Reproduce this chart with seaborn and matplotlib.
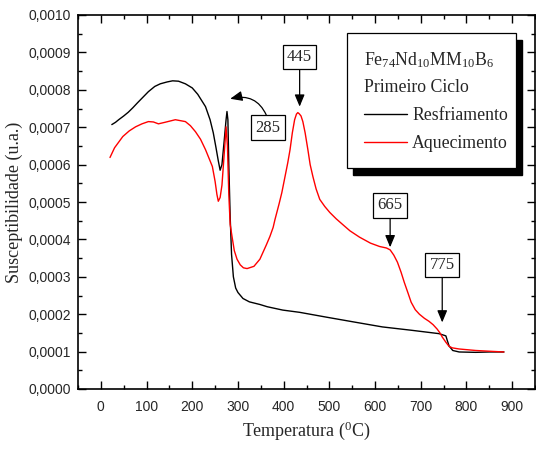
import numpy as np
import pandas as pd
import matplotlib
matplotlib.use("Agg")
import matplotlib.pyplot as plt
import seaborn as sns
from matplotlib.ticker import MultipleLocator, FuncFormatter
from matplotlib.patches import Rectangle

# ---------------- data ----------------
T_resfriamento = [24, 32, 39, 50, 60, 70, 80, 92, 104, 118, 130, 145, 157, 170, 185, 200,
                  212, 229, 239, 246, 252, 257, 261, 265, 270, 274, 276, 278, 280, 283,
                  286, 290, 295, 300, 311, 325, 348, 364, 398, 435, 494, 550, 616, 680,
                  740, 755, 758, 762, 770, 784, 820, 850, 882]
chi_resfriamento = [7.07e-4, 7.13e-4, 7.20e-4, 7.30e-4, 7.40e-4, 7.52e-4, 7.65e-4, 7.80e-4,
                    7.95e-4, 8.09e-4, 8.16e-4, 8.21e-4, 8.24e-4, 8.23e-4, 8.16e-4, 8.05e-4,
                    7.88e-4, 7.55e-4, 7.20e-4, 6.85e-4, 6.45e-4, 6.10e-4, 5.85e-4, 6.00e-4,
                    6.65e-4, 7.20e-4, 7.42e-4, 7.20e-4, 6.00e-4, 4.60e-4,
                    3.60e-4, 3.00e-4, 2.70e-4, 2.58e-4, 2.42e-4, 2.33e-4, 2.26e-4, 2.20e-4,
                    2.11e-4, 2.05e-4, 1.92e-4, 1.80e-4, 1.66e-4, 1.57e-4,
                    1.48e-4, 1.42e-4, 1.30e-4, 1.15e-4, 1.03e-4, 0.99e-4, 0.98e-4, 0.99e-4,
                    0.99e-4]

T_aquecimento = [20, 30, 48, 62, 76, 90, 104, 115, 126, 140, 163, 185, 196, 207, 218, 229,
                 244, 250, 254, 257, 261, 265, 270, 274, 277, 280, 283, 287, 292, 298,
                 305, 312, 320, 335, 348, 362, 370, 377, 381, 390, 396, 403, 409, 414,
                 419, 424, 428, 431, 434, 438, 442, 447, 453, 458, 464, 471, 479, 490,
                 501, 515, 529, 545, 566, 590, 610, 625, 633, 641, 649, 657, 664, 672,
                 679, 688, 697, 708, 718, 727, 736, 742, 747, 755, 762, 769, 784, 820,
                 850, 882]
chi_aquecimento = [6.19e-4, 6.45e-4, 6.75e-4, 6.90e-4, 7.01e-4, 7.09e-4, 7.15e-4, 7.14e-4,
                   7.09e-4, 7.13e-4, 7.20e-4, 7.15e-4, 7.04e-4, 6.88e-4, 6.68e-4, 6.40e-4,
                   5.95e-4, 5.55e-4, 5.20e-4, 5.02e-4, 5.12e-4, 5.45e-4, 6.30e-4, 7.01e-4,
                   6.50e-4, 5.20e-4, 4.40e-4, 4.08e-4, 3.70e-4, 3.47e-4,
                   3.32e-4, 3.24e-4, 3.22e-4, 3.28e-4, 3.47e-4, 3.85e-4, 4.08e-4, 4.32e-4,
                   4.53e-4, 4.95e-4, 5.25e-4, 5.68e-4, 6.05e-4, 6.40e-4,
                   6.85e-4, 7.20e-4, 7.35e-4, 7.39e-4, 7.36e-4, 7.30e-4, 7.15e-4, 6.85e-4,
                   6.40e-4, 6.00e-4, 5.68e-4, 5.35e-4, 5.07e-4, 4.88e-4,
                   4.72e-4, 4.55e-4, 4.40e-4, 4.23e-4, 4.06e-4, 3.90e-4, 3.81e-4, 3.77e-4,
                   3.72e-4, 3.58e-4, 3.39e-4, 3.12e-4, 2.85e-4, 2.57e-4,
                   2.32e-4, 2.12e-4, 2.00e-4, 1.89e-4, 1.81e-4, 1.72e-4, 1.60e-4, 1.50e-4,
                   1.39e-4, 1.25e-4, 1.14e-4, 1.10e-4, 1.07e-4, 1.03e-4,
                   1.01e-4, 0.99e-4]

series_names = ["Resfriamento", "Aquecimento"]
series_colors = ["black", "red"]

# annotations: label, tip (T, chi), text position (T, chi)
ann_labels = ["285", "445", "665", "775"]
ann_tips = [(283, 7.76e-4), (435, 7.55e-4), (633, 3.79e-4), (747, 1.78e-4)]
ann_text = [(366, 6.99e-4), (435, 8.88e-4), (633, 4.91e-4), (747, 3.31e-4)]

legend_title_1 = r"Fe$_{74}$Nd$_{10}$MM$_{10}$B$_6$"
legend_title_2 = "Primeiro Ciclo"

x_ticks = [0, 100, 200, 300, 400, 500, 600, 700, 800, 900]
y_ticks = [0.0000, 0.0001, 0.0002, 0.0003, 0.0004, 0.0005, 0.0006, 0.0007, 0.0008, 0.0009, 0.0010]

# ---------------- style ----------------
sns.set_style("ticks")
plt.rcParams["font.family"] = ["Liberation Serif", "DejaVu Serif"]
plt.rcParams["mathtext.fontset"] = "custom"
plt.rcParams["mathtext.rm"] = "Liberation Serif"
plt.rcParams["mathtext.it"] = "Liberation Serif:italic"
plt.rcParams["mathtext.bf"] = "Liberation Serif:bold"

fig = plt.figure(figsize=(5.36, 4.5), dpi=100)
ax = fig.add_axes([78 / 536, 61 / 450, 457 / 536, 374 / 450])

df = pd.concat([
    pd.DataFrame({"T": T_resfriamento, "chi": chi_resfriamento, "serie": series_names[0]}),
    pd.DataFrame({"T": T_aquecimento, "chi": chi_aquecimento, "serie": series_names[1]}),
])
sns.lineplot(data=df, x="T", y="chi", hue="serie", hue_order=series_names,
             palette=dict(zip(series_names, series_colors)), estimator=None,
             linewidth=1.0, ax=ax, legend=True)

ax.set_xlim(-50, 950)
ax.set_ylim(0, 0.0010)
ax.set_xticks(x_ticks)
ax.set_yticks(y_ticks)
ax.xaxis.set_minor_locator(MultipleLocator(50))
ax.yaxis.set_minor_locator(MultipleLocator(0.00005))
ax.yaxis.set_major_formatter(FuncFormatter(lambda v, p: f"{v:.4f}".replace(".", ",")))
ax.xaxis.set_major_formatter(FuncFormatter(lambda v, p: f"{v:.0f}"))

ax.tick_params(which="both", direction="in", top=True, right=True, width=1.0, color="black")
ax.tick_params(which="major", length=6)
ax.tick_params(which="minor", length=3)
ax.tick_params(axis="x", which="major", pad=8)
ax.tick_params(axis="y", which="major", pad=5)
for lab in ax.get_xticklabels() + ax.get_yticklabels():
    lab.set_family(["Liberation Sans", "DejaVu Sans"])
    lab.set_fontsize(10)
for s in ax.spines.values():
    s.set_linewidth(1.2)
    s.set_color("black")

ax.set_xlabel(r"Temperatura ($^0$C)", fontsize=13, labelpad=4)
ax.set_ylabel("Susceptibilidade (u.a.)", fontsize=13, labelpad=4)

# annotations
for i, (lab, tip, txt) in enumerate(zip(ann_labels, ann_tips, ann_text)):
    if i == 0:
        ap = dict(arrowstyle="-|>,head_length=0.6,head_width=0.25", color="black", lw=0.9,
                  connectionstyle="arc3,rad=0.45", relpos=(0.5, 1.0), shrinkA=0, shrinkB=0)
    else:
        ap = dict(arrowstyle="-|>,head_length=0.6,head_width=0.25", color="black", lw=0.9,
                  relpos=(0.5, 0.0), shrinkA=0, shrinkB=0)
    ax.annotate(lab, xy=tip, xytext=txt, ha="center", va="center", fontsize=12,
                bbox=dict(boxstyle="square,pad=0.25", fc="white", ec="black", lw=0.9),
                arrowprops=ap, zorder=5)

# legend with shadowed frame
x0, y0, w, h = 269 / 457, 221 / 374, 169 / 457, 135 / 374
ax.add_patch(Rectangle((x0 + 6 / 457, y0 - 7 / 374), w, h, transform=ax.transAxes,
                       fc="black", ec="black", zorder=6))
ax.add_patch(Rectangle((x0, y0), w, h, transform=ax.transAxes,
                       fc="white", ec="black", lw=0.9, zorder=7))
handles, labels = ax.get_legend_handles_labels()
leg = ax.legend(handles, labels, title=legend_title_1 + "\n" + legend_title_2,
                loc="upper left", bbox_to_anchor=(x0 + 17 / 457, y0 + h - 17 / 374),
                frameon=False, fontsize=12.8, title_fontsize=12.8,
                handlelength=2.4, handletextpad=0.3, labelspacing=0.62,
                borderaxespad=0, borderpad=0, alignment="left")
leg.get_title().set_linespacing(1.75)
leg.set_zorder(8)

fig.savefig("out.png", dpi=100)
